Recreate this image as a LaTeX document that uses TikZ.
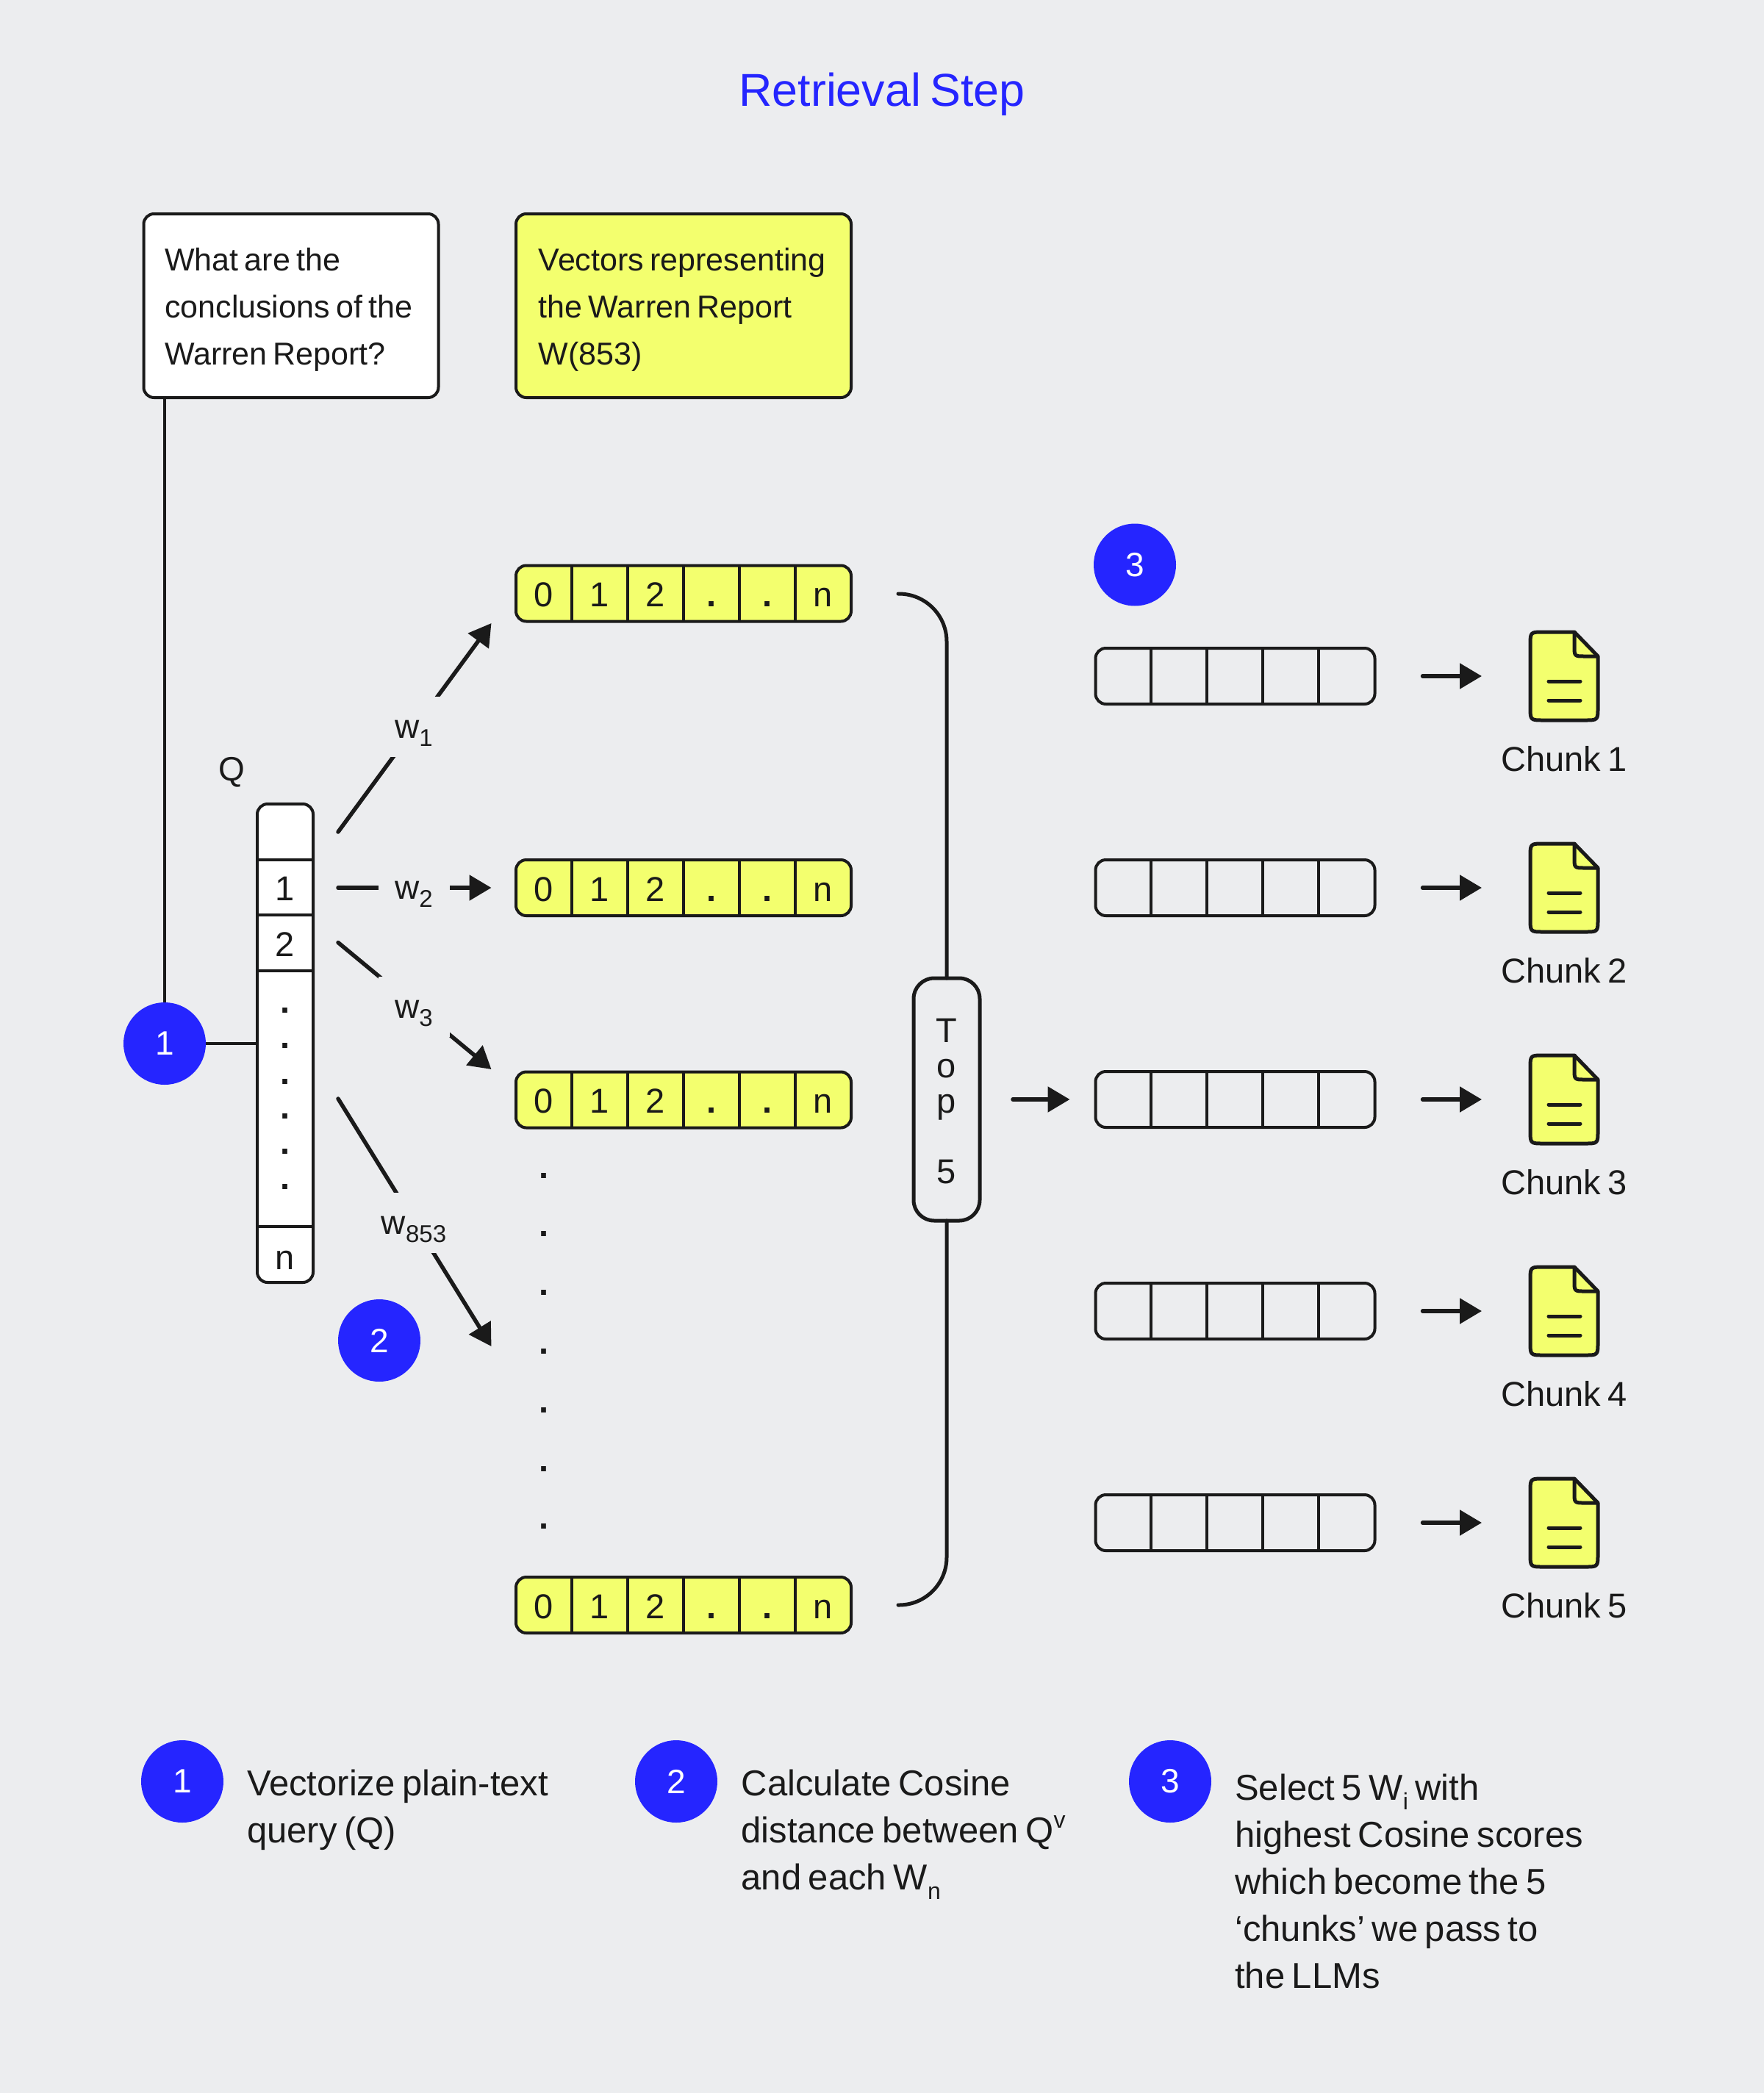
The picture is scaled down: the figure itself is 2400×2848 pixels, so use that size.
\documentclass[tikz,border=0pt]{standalone}
\usepackage{fontspec}
\setmainfont[WordSpace=0.7]{Liberation Sans}
\usetikzlibrary{arrows.meta}
\definecolor{bgc}{HTML}{ECEDEF}
\definecolor{yel}{HTML}{F3FF6E}
\definecolor{blu}{HTML}{2525FF}
\definecolor{ink}{HTML}{1A1A1A}
\newcommand{\pxfont}[2]{\fontsize{#1}{#2}\selectfont}
\newcommand{\lowtext}[3]{\raisebox{#2pt}{\pxfont{#1}{#1}#3}}
\tikzset{
  wire/.style={draw=ink,line width=4pt},
  barline/.style={draw=ink,line width=5pt},
  rowbox/.style={draw=ink,line width=4pt,rounded corners=14pt,inner sep=0pt,outer sep=0pt,minimum height=76pt,minimum width=380pt},
  infobox/.style={draw=ink,line width=4pt,rounded corners=14pt,inner sep=0pt,outer sep=0pt},
  numdot/.style={circle,fill=blu,text=white,inner sep=0pt,outer sep=0pt,minimum size=112pt,font=\pxfont{46}{46}},
  celltext/.style={anchor=base,inner sep=0pt,text=ink,font=\pxfont{47}{47}},
  dottext/.style={anchor=base,inner sep=0pt,text=ink,font=\pxfont{47}{47}\bfseries},
  boxtext/.style={anchor=north west,inner sep=0pt,align=left,text=ink,font=\pxfont{43}{64}},
  legendtext/.style={anchor=north west,inner sep=0pt,align=left,text=ink,font=\pxfont{49}{64}},
  wlabel/.style={fill=bgc,inner sep=0pt,minimum width=97pt,minimum height=82pt,text height=30pt,text depth=0pt,text=ink,font=\pxfont{46}{46}},
  flow/.style={draw=ink,fill=ink,line width=5.5pt,line cap=round,-{Triangle[length=30pt,width=34pt]}},
}
\newcommand{\vecrow}[2]{%
  \node[rowbox,fill=yel,minimum width=456pt] (#1) at (930,#2) {};
  \foreach \dx in {778,854,930,1006,1082}{\draw[wire] (\dx,{#2-38}) -- (\dx,{#2+38});}
  \foreach \cx/\ct [count=\ci] in {740/0,816/1,892/2,1120/n}{\node[celltext] (#1c\ci) at (\cx,{#2+18}) {\ct};}
  \node[dottext] (#1d1) at (968,{#2+18}) {.};
  \node[dottext] (#1d2) at (1044,{#2+18}) {.};
}
\newcommand{\chunkrow}[3]{%
  \node[rowbox] (#1) at (1680.5,#2) {};
  \foreach \dx in {1566,1642,1718,1794}{\draw[wire] (\dx,{#2-38}) -- (\dx,{#2+38});}
  \node[inner sep=0pt,outer sep=0pt,minimum width=96pt,minimum height=124pt] (#1d) at (2128,#2) {};
  \draw[flow] ([xshift=65pt]#1.east) -- ([xshift=-64pt]#1d.west);
  \draw[barline,fill=yel,line join=round]
    (2098,{#2-60}) -- (2142,{#2-60}) -- (2174,{#2-27}) -- (2174,{#2+42})
    .. controls (2174,{#2+60}) .. (2156,{#2+60}) -- (2100,{#2+60})
    .. controls (2082,{#2+60}) .. (2082,{#2+42}) -- (2082,{#2-42})
    .. controls (2082,{#2-60}) .. (2100,{#2-60}) -- cycle;
  \draw[barline,line join=round] (2142,{#2-60}) -- (2142,{#2-41}) .. controls (2142,{#2-27}) .. (2156,{#2-27}) -- (2174,{#2-27});
  \draw[barline,line cap=round] (2107,{#2+7}) -- (2150,{#2+7});
  \draw[barline,line cap=round] (2107,{#2+33}) -- (2150,{#2+33});
  \node[anchor=base,inner sep=0pt,text=ink,font=\pxfont{47}{46}] (#1t) at (2128,{#2+129}) {#3};
}
\begin{document}
\begin{tikzpicture}[x=1pt,y=-1pt]
\useasboundingbox (0,0) rectangle (2400,2848);
\fill[bgc] (0,0) rectangle (2400,2848);

\node[anchor=base,inner sep=0pt,text=blu,font=\pxfont{62.8}{62}] (title) at (1200,144.5) {Retrieval Step};

% top boxes
\node[infobox,fill=white,minimum width=401pt,minimum height=250pt] (qbox) at (396,416) {};
\node[boxtext] (qtext) at (224,337.5) {\rule{0pt}{30pt}What are the\\conclusions of the\\Warren Report?};
\node[infobox,fill=yel,minimum width=456pt,minimum height=250pt] (wbox) at (930,416) {};
\node[boxtext] (wtext) at (732.5,337.5) {\rule{0pt}{30pt}Vectors representing\\the Warren Report\\W(853)};

% query vector
\node[anchor=base,inner sep=0pt,text=ink,font=\pxfont{46}{46}] (qlabel) at (315,1062) {Q};
\node[infobox,fill=white,minimum width=76pt,minimum height=651pt] (qvec) at (388,1419.5) {};
\foreach \dy in {1170,1245,1321,1669}{\draw[line width=3.5pt,draw=ink] (350,\dy) -- (426,\dy);}
\node[celltext] (q1) at (388,1225) {1};
\node[celltext] (q2) at (388,1301) {2};
\foreach \dy/\dn in {1378/a,1426/b,1475/c,1522/d,1570/e,1618/f}{\node[dottext] (qd\dn) at (388,\dy) {.};}
\node[celltext] (qn) at (388,1727) {n};

\node[numdot] (c1) at (224,1420) {1};
\draw[wire] (qbox.south -| c1.north) -- (c1.north);
\draw[wire] (c1.east) -- (qvec.west |- c1.east);

% vectors
\vecrow{r1}{807.5}
\vecrow{r2}{1208}
\vecrow{r3}{1496.5}
\vecrow{r4}{2184}
\foreach \dy/\dn in {1603/a,1682/b,1762/c,1842/d,1922/e,2002/f,2080/g}{\node[dottext] (cd\dn) at (740,\dy) {.};}

% similarity arrows
\coordinate (s1) at (460,1132); \coordinate (t1) at (668.5,848);
\coordinate (s2) at (460,1208); \coordinate (t2) at (668.5,1208);
\coordinate (s3) at (460,1282.5); \coordinate (t3) at (668.5,1455);
\coordinate (s4) at (460,1495); \coordinate (t4) at (668.5,1832);
\draw[flow] (s1) -- (t1);
\draw[flow] (s2) -- (t2);
\draw[flow] (s3) -- (t3);
\draw[flow] (s4) -- (t4);
\node[wlabel] (w1) at (563,989) {w\lowtext{33}{-11}{1}};
\node[wlabel] (w2) at (563,1208) {w\lowtext{33}{-11}{2}};
\node[wlabel] (w3) at (563,1370) {w\lowtext{33}{-11}{3}};
\node[wlabel] (w4) at (563,1664) {w\lowtext{33}{-11}{853}};

\node[numdot] (c2) at (516,1824) {2};
\node[numdot] (c3) at (1544,768.5) {3};

% top five
\node[infobox,line width=5pt,rounded corners=28pt,minimum width=90pt,minimum height=330pt,align=center,text=ink,font=\pxfont{47}{48}] (top) at (1288,1496) {\rule{0pt}{38pt}T\\o\\p\\[48pt]5};
\coordinate (bt) at (1222,808); \coordinate (bb) at (1222,2184);
\draw[barline,rounded corners=65pt,line cap=round] (bt) -| (top.north);
\draw[barline,rounded corners=65pt,line cap=round] (bb) -| (top.south);

% chunks
\chunkrow{k1}{920}{Chunk 1}
\chunkrow{k2}{1208}{Chunk 2}
\chunkrow{k3}{1496}{Chunk 3}
\chunkrow{k4}{1784}{Chunk 4}
\chunkrow{k5}{2072}{Chunk 5}
\draw[flow] ([xshift=45pt]top.east) -- ([xshift=-35pt]k3.west);

% legend
\node[numdot] (l1) at (248,2424) {1};
\node[legendtext] (l1t) at (336,2403.5) {\rule{0pt}{40pt}Vectorize plain-text\\query (Q)};
\node[numdot] (l2) at (920,2424) {2};
\node[legendtext] (l2t) at (1008.5,2403.5) {\rule{0pt}{40pt}Calculate Cosine\\distance between Q\lowtext{32}{20}{v}\\and each W\lowtext{32}{-13}{n}};
\node[numdot] (l3) at (1592,2424) {3};
\node[legendtext] (l3t) at (1680,2409.5) {\rule{0pt}{40pt}Select 5 W\lowtext{32}{-13}{i} with\\highest Cosine scores\\which become the 5\\‘chunks’ we pass to\\the LLMs};
\end{tikzpicture}
\end{document}
